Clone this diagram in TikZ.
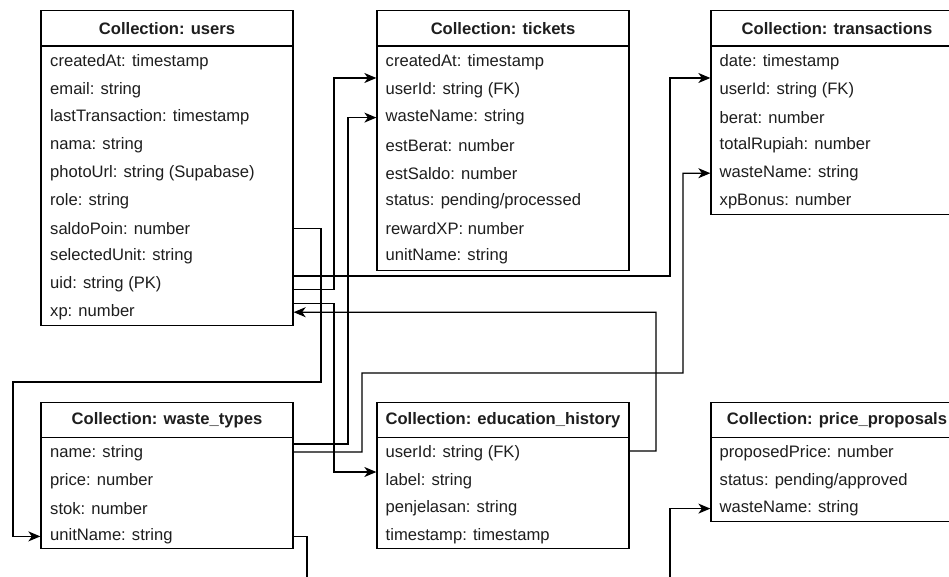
\documentclass[tikz,border=0pt]{standalone}
\usepackage{fontspec}
\setmainfont{Liberation Sans}
\usetikzlibrary{arrows.meta}
\definecolor{txt}{HTML}{1E1E1E}
\begin{document}
\begin{tikzpicture}[x=1pt,y=-1pt,
  hdr/.style={draw=black, line width=1.3pt, minimum width=252pt, minimum height=35.5pt, inner sep=0pt,
    font=\fontsize{16.6}{20}\selectfont\bfseries, text=txt},
  body/.style={draw=black, line width=1.3pt, minimum width=252pt, inner sep=0pt},
  fld/.style={anchor=west, inner sep=0pt, font=\fontsize{16.6}{20}\selectfont, text=txt},
  conn/.style={draw=black, line width=1.3pt},
  arr/.style={conn, -{Stealth[length=12pt,width=10pt,inset=3.5pt]}}]
\useasboundingbox (0,0) rectangle (949,577);
\clip (0,0) rectangle (949,577);
\fill[white] (0,0) rectangle (949,577);

% users
\node[hdr] (users) at (167,28.3) {Collection: users};
\node[body, minimum height=279.5pt] (usersb) at (167,185.8) {};
\foreach \t [count=\i] in {createdAt: timestamp, email: string, lastTransaction: timestamp, nama: string,
  photoUrl: string (Supabase), role: string, saldoPoin: number, selectedUnit: string, uid: string (PK), xp: number}
  \node[fld] (users-\i) at (50,62+27.8*\i-27.8) {\t};

% tickets
\node[hdr] (tickets) at (503,28.3) {Collection: tickets};
\node[body, minimum height=224.5pt] (tkb) at (503,158.3) {};
\foreach \t [count=\i] in {createdAt: timestamp, userId: string (FK), wasteName: string, estBerat: number,
  estSaldo: number, status: pending/processed, rewardXP: number, unitName: string}
  \node[fld] (tickets-\i) at (385.5,62+27.8*\i-27.8) {\t};

% transactions
\node[hdr] (trans) at (837,28.3) {Collection: transactions};
\node[body, minimum height=168.5pt] (trb) at (837,130.3) {};
\foreach \t [count=\i] in {date: timestamp, userId: string (FK), berat: number, totalRupiah: number,
  wasteName: string, xpBonus: number}
  \node[fld] (tr-\i) at (719.5,62+27.8*\i-27.8) {\t};

% waste_types
\node[hdr] (waste) at (167,420) {Collection: waste\_types};
\node[body, minimum height=111pt] (wtb) at (167,493.3) {};
\foreach \t [count=\i] in {name: string, price: number, stok: number, unitName: string}
  \node[fld] (wt-\i) at (50,453+27.8*\i-27.8) {\t};

% education_history
\node[hdr] (edu) at (503,420) {Collection: education\_history};
\node[body, minimum height=111pt] (edb) at (503,493.3) {};
\foreach \t [count=\i] in {userId: string (FK), label: string, penjelasan: string, timestamp: timestamp}
  \node[fld] (ed-\i) at (385.5,453+27.8*\i-27.8) {\t};

% price_proposals
\node[hdr] (price) at (837,420) {Collection: price\_proposals};
\node[body, minimum height=84pt] (ppb) at (837,479.8) {};
\foreach \t [count=\i] in {proposedPrice: number, status: pending/approved, wasteName: string}
  \node[fld] (pp-\i) at (719.5,453+27.8*\i-27.8) {\t};

% free ends below the picture
\coordinate (cutA) at (307,595);
\coordinate (cutB) at (670,595);

% connectors
\draw[arr] (usersb.east |- users-7) -| (321,382) -| (13,500) |- (wtb.west |- wt-4);
\draw[arr] (usersb.east |- 0,276) -| (670,78) -- (trb.west |- 0,78);
\draw[arr] (usersb.east |- 0,289.5) -| (334,78) -- (tkb.west |- 0,78);
\draw[arr] (usersb.east |- 0,303.5) -| (334,472) -- (edb.west |- 0,472);
\draw[arr] (edb.east |- 0,451) -| (656,312.2) -- (usersb.east |- users-10);
\draw[arr] (wtb.east |- 0,444) -| (348,117.6) -- (tkb.west |- tickets-3);
\draw[arr] (wtb.east |- 0,452) -| (362,373) -| (683,173.2) -- (trb.west |- tr-5);
\draw[conn] (wtb.east |- wt-4) -| (cutA);
\draw[arr] (cutB) |- (ppb.west |- pp-3);
\end{tikzpicture}
\end{document}
